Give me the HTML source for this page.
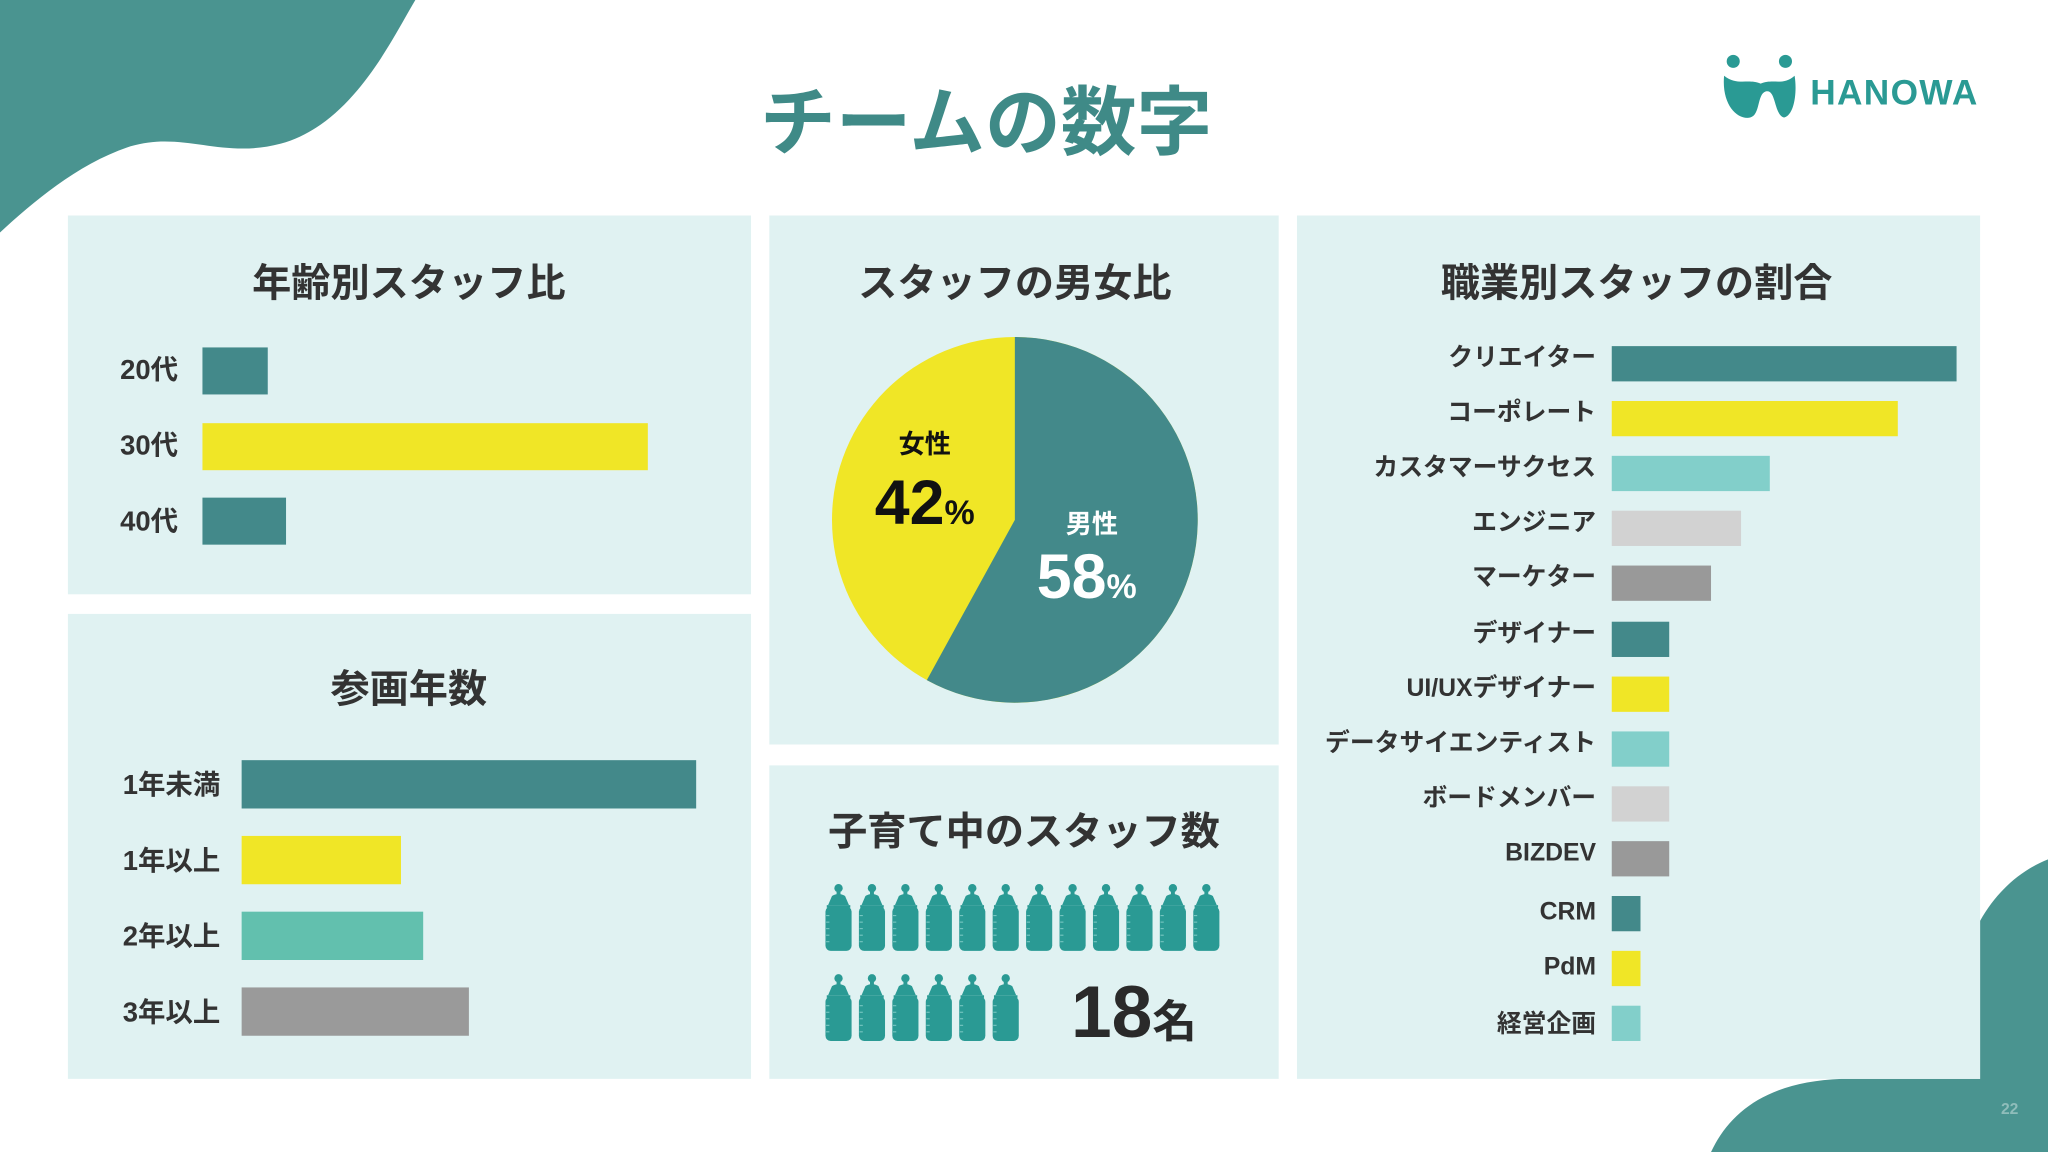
<!DOCTYPE html>
<html><head><meta charset="utf-8">
<style>
html,body{margin:0;padding:0;background:#fff;}
svg{display:block;}
text{font-family:"Liberation Sans","Noto Sans CJK JP",sans-serif;font-weight:bold;}
</style></head>
<body>
<svg width="2048" height="1152" viewBox="0 0 1568 882" xmlns="http://www.w3.org/2000/svg">
<defs>
<g id="b">
<circle cx="11" cy="4" r="3.2" fill="#2a9a94"/>
<rect x="9.5" y="4" width="3" height="6" fill="#2a9a94"/>
<path d="M6,10 Q11,7 16,10 L19,17 L3,17 Z" fill="#2a9a94"/>
<rect x="1" y="18" width="20" height="34" rx="4" fill="#2a9a94"/>
<rect x="2" y="17" width="18" height="2" fill="#2a9a94"/>
<g stroke="#7cc9c4" stroke-width="0.8"><line x1="1.5" y1="25" x2="4" y2="25"/><line x1="1.5" y1="30" x2="4" y2="30"/><line x1="1.5" y1="35" x2="4" y2="35"/><line x1="1.5" y1="40" x2="4" y2="40"/><line x1="1.5" y1="45" x2="4" y2="45"/></g>
</g>
</defs>
<rect width="1568" height="882" fill="#fff"/>
<path d="M0,0 L318,0 C300,30 270,95 215,110 C170,122 140,100 100,112 C60,125 25,155 0,178 Z" fill="#4a9490"/>
<path d="M1310,882 C1325,850 1355,828 1410,826 L1516,826 L1516,705 C1530,680 1550,665 1568,658 L1568,882 Z" fill="#4a9490"/>
<text x="755" y="114" text-anchor="middle" font-size="58" fill="#3f8a87">チームの数字</text>
<g fill="#2a9a94">
<circle cx="1327" cy="47" r="5"/><circle cx="1367" cy="47" r="5"/>
<path d="M1320,58 C1318,80 1330,92 1340,90 C1348,88 1345,72 1352,70 C1360,68 1358,88 1366,90 C1374,88 1376,70 1374,58 C1365,66 1358,60 1348,64 C1338,60 1330,66 1320,58 Z"/>
</g>
<text x="1386" y="80" font-size="27" fill="#2a9a94" letter-spacing="1">HANOWA</text>
<g fill="#e0f2f2">
<rect x="52" y="165" width="523" height="290"/>
<rect x="52" y="470" width="523" height="356"/>
<rect x="589" y="165" width="390" height="405"/>
<rect x="589" y="586" width="390" height="240"/>
<rect x="993" y="165" width="523" height="661"/>
</g>
<g fill="#333" font-size="30" text-anchor="middle">
<text x="313" y="227">年齢別スタッフ比</text>
<text x="777" y="227">スタッフの男女比</text>
<text x="1253" y="227">職業別スタッフの割合</text>
<text x="313" y="538">参画年数</text>
<text x="784" y="647">子育て中のスタッフ数</text>
</g>
<g font-size="21" fill="#333">
<text x="92" y="290">20代</text><text x="92" y="348">30代</text><text x="92" y="406">40代</text>
</g>
<rect x="155" y="266" width="50" height="36" fill="#43898a"/>
<rect x="155" y="324" width="341" height="36" fill="#f0e626"/>
<rect x="155" y="381" width="64" height="36" fill="#43898a"/>
<g font-size="21" fill="#333">
<text x="94" y="608">1年未満</text><text x="94" y="666">1年以上</text><text x="94" y="724">2年以上</text><text x="94" y="782">3年以上</text>
</g>
<rect x="185" y="582" width="348" height="37" fill="#43898a"/>
<rect x="185" y="640" width="122" height="37" fill="#f0e626"/>
<rect x="185" y="698" width="139" height="37" fill="#62c0ae"/>
<rect x="185" y="756" width="174" height="37" fill="#9a9a9a"/>
<circle cx="777" cy="398" r="140" fill="#f0e626"/>
<path d="M777,398 L777,258 A140,140 0 1,1 709.6,520.7 Z" fill="#43898a"/>
<text x="708" y="347" font-size="20" fill="#111" text-anchor="middle">女性</text>
<text x="708" y="401" font-size="48" fill="#111" text-anchor="middle">42<tspan font-size="26">%</tspan></text>
<text x="836" y="408" font-size="20" fill="#fff" text-anchor="middle">男性</text>
<text x="832" y="458" font-size="48" fill="#fff" text-anchor="middle">58<tspan font-size="26">%</tspan></text>
<g transform="translate(631,676)">
<use href="#b" x="0"/><use href="#b" x="25.6"/><use href="#b" x="51.2"/><use href="#b" x="76.8"/><use href="#b" x="102.4"/><use href="#b" x="128"/><use href="#b" x="153.6"/><use href="#b" x="179.2"/><use href="#b" x="204.8"/><use href="#b" x="230.4"/><use href="#b" x="256"/><use href="#b" x="281.6"/>
</g>
<g transform="translate(631,745)">
<use href="#b" x="0"/><use href="#b" x="25.6"/><use href="#b" x="51.2"/><use href="#b" x="76.8"/><use href="#b" x="102.4"/><use href="#b" x="128"/>
</g>
<text x="820" y="794" font-size="56" fill="#2a2a2a">18<tspan font-size="34">名</tspan></text>
<g font-size="19" fill="#333" text-anchor="end">
<text x="1222" y="280">クリエイター</text>
<text x="1222" y="322">コーポレート</text>
<text x="1222" y="364">カスタマーサクセス</text>
<text x="1222" y="406">エンジニア</text>
<text x="1222" y="448">マーケター</text>
<text x="1222" y="491">デザイナー</text>
<text x="1222" y="533">UI/UXデザイナー</text>
<text x="1222" y="575">データサイエンティスト</text>
<text x="1222" y="617">ボードメンバー</text>
<text x="1222" y="659">BIZDEV</text>
<text x="1222" y="704">CRM</text>
<text x="1222" y="746">PdM</text>
<text x="1222" y="790">経営企画</text>
</g>
<rect x="1234" y="265" width="264" height="27" fill="#43898a"/>
<rect x="1234" y="307" width="219" height="27" fill="#f0e626"/>
<rect x="1234" y="349" width="121" height="27" fill="#82cfca"/>
<rect x="1234" y="391" width="99" height="27" fill="#d2d2d2"/>
<rect x="1234" y="433" width="76" height="27" fill="#999"/>
<rect x="1234" y="476" width="44" height="27" fill="#43898a"/>
<rect x="1234" y="518" width="44" height="27" fill="#f0e626"/>
<rect x="1234" y="560" width="44" height="27" fill="#82cfca"/>
<rect x="1234" y="602" width="44" height="27" fill="#d2d2d2"/>
<rect x="1234" y="644" width="44" height="27" fill="#999"/>
<rect x="1234" y="686" width="22" height="27" fill="#43898a"/>
<rect x="1234" y="728" width="22" height="27" fill="#f0e626"/>
<rect x="1234" y="770" width="22" height="27" fill="#82cfca"/>
<text x="1532" y="853" font-size="12" fill="#8fbdba" font-weight="normal">22</text>
</svg>
</body></html>
